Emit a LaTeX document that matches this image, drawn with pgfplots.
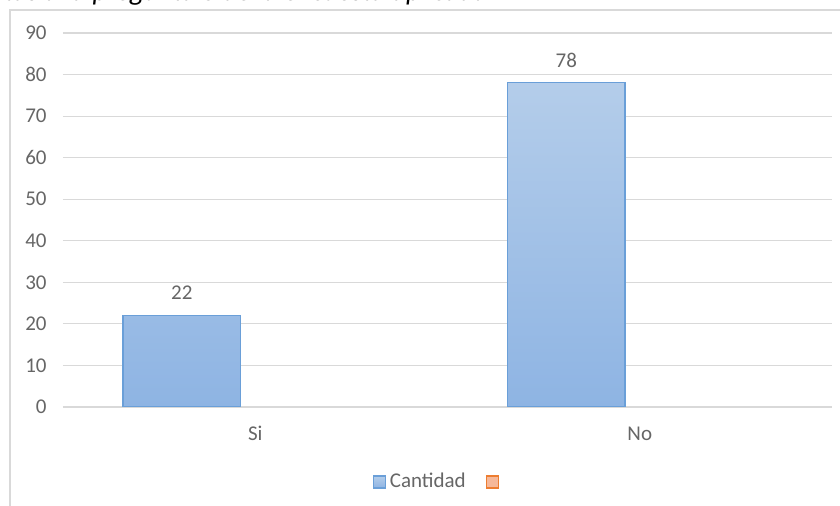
\documentclass[border=0pt]{standalone}
\usepackage{fontspec}
\setmainfont{Carlito}
\usepackage{pgfplots}
\pgfplotsset{compat=1.18}
\definecolor{gridgray}{HTML}{D9D9D9}
\definecolor{labelgray}{HTML}{666666}
\definecolor{bartop}{HTML}{B4CDEA}
\definecolor{barbot}{HTML}{8EB4E3}
\definecolor{baredge}{HTML}{6A9FD8}
\definecolor{orfill}{HTML}{F6B899}
\definecolor{oredge}{HTML}{ED7D31}
\begin{document}
\begin{tikzpicture}[x=0.5pt,y=0.5pt]
\useasboundingbox (0,0) rectangle (840,506);
\clip (0,0) rectangle (840,506);
% cropped title
\node[anchor=base west, inner sep=0pt, font=\fontsize{14}{16}\selectfont\itshape] at (-88,505.5) {Respuestas a la pregunta 5 de la encuesta aplicada};
% chart frame
\draw[gridgray, line width=0.6pt] (10,-5) -- (10,496) -- (845,496);
\begin{axis}[
  at={(31.5pt,49.5pt)}, anchor=south west,
  scale only axis, width=384.5pt, height=187pt,
  xmin=-0.5, xmax=1.5, ymin=0, ymax=90,
  xtick={0,1}, xticklabels={Si,No},
  ytick={0,10,...,90},
  axis line style={draw=none},
  major tick length=0pt,
  ymajorgrids, xmajorgrids=false,
  major grid style={gridgray, line width=0.6pt},
  /pgf/number format/assume math mode=true,
  tick label style={text=labelgray, font=\fontsize{10.5}{12}\selectfont},
  yticklabel style={anchor=east, inner sep=0pt, xshift=-8pt},
  xticklabel style={anchor=base, inner sep=0pt, yshift=-17pt},
  legend columns=2,
  legend style={at={(0.49,-0.2005)}, anchor=center, draw=none, fill=none,
    font=\fontsize{10.5}{12}\selectfont, text=labelgray,
    /tikz/every even column/.style={column sep=8pt}},
  legend image code/.code={\draw[#1] (0pt,-3pt) rectangle (6pt,3pt);},
]
\addplot[ybar, bar width=0.3056, bar shift=-0.191,
  draw=baredge, line width=0.6pt, top color=bartop, bottom color=barbot,
  nodes near coords,
  nodes near coords style={anchor=base, inner sep=0pt, yshift=7.8pt, xshift=-36.75pt, text=labelgray, font=\fontsize{10.5}{12}\selectfont}]
  coordinates {(0,22) (1,78)};
\addlegendentry{Cantidad}
\addlegendimage{fill=orfill, draw=oredge, line width=0.6pt}
\addlegendentry{}
\end{axis}
\end{tikzpicture}
\end{document}
